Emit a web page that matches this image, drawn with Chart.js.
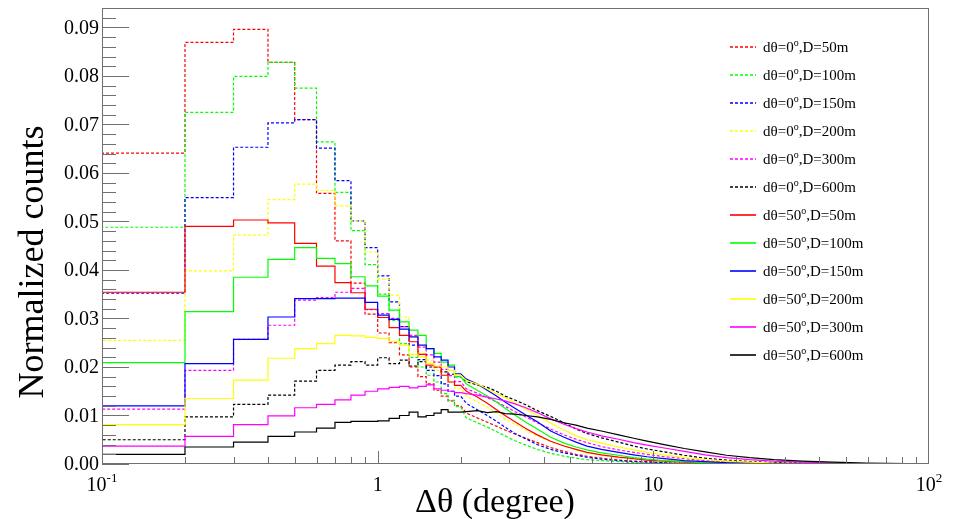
<!DOCTYPE html>
<html>
<head>
<meta charset="utf-8">
<script src="https://cdn.jsdelivr.net/npm/chart.js@4.4.1/dist/chart.umd.min.js"></script>
<style>
  html, body { margin: 0; padding: 0; background: #fff; }
  #myChart { display: block; }
</style>
</head>
<body>
<canvas id="myChart" width="953" height="519" style="width:953px;height:519px"></canvas>
<script>
// bin edges in degrees (last entry closes the last bin)
const binEdges = [0.1,0.2,0.3,0.4,0.5,0.6,0.7,0.8,0.9,1.0,1.1,1.2,1.3,1.4,1.5,1.6,1.7,1.8,1.9,2.0,
  2.2,2.4,2.6,2.8,3.0,3.3,3.6,4.0,4.5,5,5.5,6,7,8,9,10,12,14,17,20,25,30,40,50,70,100];

// dtheta = 0 deg (dashed)
const dt0_D50 = [0.0641,0.0869,0.0896,0.0828,0.0710,0.0558,0.0460,0.0373,0.0309,0.0270,0.0250,0.0225,0.0200,0.0180,0.0165,0.0152,0.0140,0.0130,0.0120,
  0.0105,0.0095,0.0086,0.0078,0.0070,0.0062,0.0053,0.0044,0.0034,0.0026,0.0020,0.0016,0.0012,0.0008,0.0006,0.0005,0.0003,0.0002,0.0001,0.00006,0.00004,0.00002,0.00001,0.00001,0,0];
const dt0_D100 = [0.0488,0.0725,0.0799,0.0828,0.0775,0.0664,0.0560,0.0481,0.0411,0.0350,0.0296,0.0248,0.0220,0.0200,0.0183,0.0169,0.0145,0.0131,0.0118,
  0.0095,0.0085,0.0076,0.0067,0.0058,0.0048,0.0039,0.0030,0.0022,0.0016,0.0012,0.0009,0.0007,0.0005,0.0003,0.0002,0.0002,0.0001,0.00005,0.00003,0.00002,0.00001,0,0,0,0];
const dt0_D150 = [0.0352,0.0549,0.0653,0.0703,0.0710,0.0651,0.0584,0.0501,0.0446,0.0388,0.0334,0.0283,0.0245,0.0215,0.0193,0.0182,0.0165,0.0150,0.0140,
  0.0125,0.0112,0.0100,0.0088,0.0076,0.0063,0.0052,0.0040,0.0030,0.0023,0.0018,0.0014,0.0010,0.0007,0.0005,0.0004,0.0003,0.0002,0.0001,0.00006,0.00003,0.00002,0.00001,0,0,0];
const dt0_D200 = [0.0255,0.0398,0.0472,0.0545,0.0577,0.0564,0.0532,0.0501,0.0437,0.0381,0.0348,0.0303,0.0262,0.0228,0.0214,0.0193,0.0183,0.0169,0.0156,
  0.0140,0.0128,0.0118,0.0105,0.0093,0.0082,0.0070,0.0058,0.0046,0.0037,0.0029,0.0023,0.0018,0.0013,0.0010,0.0008,0.0005,0.0003,0.0002,0.0001,0.00006,0.00003,0.00002,0.00001,0,0];
const dt0_D300 = [0.0113,0.0193,0.0257,0.0286,0.0338,0.0343,0.0354,0.0362,0.0318,0.0310,0.0300,0.0283,0.0265,0.0241,0.0225,0.0210,0.0195,0.0182,0.0170,
  0.0155,0.0146,0.0137,0.0128,0.0119,0.0108,0.0097,0.0085,0.0072,0.0060,0.0051,0.0044,0.0036,0.0029,0.0024,0.0020,0.0015,0.0011,0.0007,0.0005,0.0003,0.0002,0.0001,0.00005,0.00002,0.00001];
const dt0_D600 = [0.0050,0.0097,0.0123,0.0142,0.0171,0.0193,0.0204,0.0211,0.0204,0.0219,0.0207,0.0214,0.0202,0.0211,0.0200,0.0200,0.0190,0.0185,0.0180,
  0.0170,0.0163,0.0158,0.0150,0.0140,0.0132,0.0122,0.0110,0.0098,0.0085,0.0072,0.0063,0.0054,0.0045,0.0037,0.0031,0.0025,0.0018,0.0012,0.0008,0.0005,0.0003,0.0002,0.0001,0.00005,0.00002];

// dtheta = 50 deg (solid)
const dt50_D50 = [0.0354,0.0490,0.0503,0.0497,0.0455,0.0408,0.0374,0.0353,0.0319,0.0302,0.0281,0.0265,0.0252,0.0226,0.0204,0.0200,0.0183,0.0169,0.0162,
  0.0150,0.0138,0.0125,0.0112,0.0100,0.0087,0.0073,0.0060,0.0047,0.0037,0.0030,0.0024,0.0019,0.0014,0.0011,0.0008,0.0006,0.0004,0.0002,0.0001,0.00005,0.00003,0.00001,0,0,0];
const dt50_D100 = [0.0209,0.0314,0.0385,0.0422,0.0446,0.0424,0.0413,0.0386,0.0367,0.0346,0.0317,0.0293,0.0276,0.0265,0.0238,0.0228,0.0210,0.0204,0.0180,
  0.0165,0.0152,0.0140,0.0128,0.0115,0.0101,0.0086,0.0072,0.0055,0.0043,0.0035,0.0029,0.0023,0.0018,0.0013,0.0010,0.0007,0.0005,0.0003,0.0002,0.0001,0.00005,0.00002,0.00001,0,0];
const dt50_D150 = [0.0120,0.0207,0.0257,0.0303,0.0341,0.0341,0.0342,0.0342,0.0333,0.0307,0.0298,0.0278,0.0262,0.0245,0.0238,0.0221,0.0214,0.0200,0.0186,
  0.0175,0.0165,0.0152,0.0140,0.0128,0.0115,0.0101,0.0087,0.0068,0.0055,0.0045,0.0037,0.0030,0.0024,0.0019,0.0015,0.0011,0.0007,0.0005,0.0003,0.0002,0.0001,0.00005,0.00002,0.00001,0.00001];
const dt50_D200 = [0.0081,0.0135,0.0173,0.0218,0.0238,0.0248,0.0265,0.0264,0.0261,0.0259,0.0252,0.0245,0.0226,0.0221,0.0207,0.0202,0.0200,0.0193,0.0183,
  0.0172,0.0165,0.0155,0.0145,0.0137,0.0126,0.0113,0.0100,0.0084,0.0070,0.0058,0.0050,0.0043,0.0035,0.0029,0.0024,0.0019,0.0013,0.0009,0.0006,0.0004,0.0002,0.0001,0.00005,0.00003,0.00001];
const dt50_D300 = [0.0037,0.0057,0.0081,0.0099,0.0116,0.0123,0.0132,0.0142,0.0150,0.0155,0.0158,0.0160,0.0157,0.0160,0.0163,0.0155,0.0152,0.0150,0.0147,
  0.0145,0.0142,0.0138,0.0134,0.0130,0.0124,0.0116,0.0106,0.0093,0.0082,0.0073,0.0066,0.0058,0.0051,0.0044,0.0039,0.0033,0.0026,0.0019,0.0013,0.0009,0.0006,0.0004,0.0002,0.0001,0.00005];
const dt50_D600 = [0.0020,0.0035,0.0045,0.0057,0.0066,0.0074,0.0086,0.0088,0.0088,0.0089,0.0094,0.0100,0.0107,0.0097,0.0100,0.0105,0.0112,0.0107,0.0107,
  0.0108,0.0110,0.0106,0.0108,0.0104,0.0103,0.0100,0.0097,0.0092,0.0085,0.0080,0.0074,0.0068,0.0060,0.0053,0.0047,0.0040,0.0032,0.0025,0.0018,0.0013,0.0009,0.0006,0.0004,0.0002,0.0001];

const seriesLabels = ["dθ=0°,D=50m","dθ=0°,D=100m","dθ=0°,D=150m","dθ=0°,D=200m","dθ=0°,D=300m","dθ=0°,D=600m",
  "dθ=50°,D=50m","dθ=50°,D=100m","dθ=50°,D=150m","dθ=50°,D=200m","dθ=50°,D=300m","dθ=50°,D=600m"];
const seriesValues = [dt0_D50, dt0_D100, dt0_D150, dt0_D200, dt0_D300, dt0_D600,
  dt50_D50, dt50_D100, dt50_D150, dt50_D200, dt50_D300, dt50_D600];
const seriesColors = ["#ff0000","#00ff00","#0000ff","#ffff00","#ff00ff","#000000",
  "#ff0000","#00ff00","#0000ff","#ffff00","#ff00ff","#000000"];

const yTickValues = [0,0.01,0.02,0.03,0.04,0.05,0.06,0.07,0.08,0.09];
const yTickLabels = ["0.00","0.01","0.02","0.03","0.04","0.05","0.06","0.07","0.08","0.09"];
const xTickValues = [0.1,1,10,100];
const xTickBase = ["10","1","10","10"];
const xTickExp = ["-1","","","2"];

const FONT = "'Liberation Serif', 'Times New Roman', serif";
const STEP_LIMIT = 2.0; // below this the 0.1 deg bins are drawn as steps, above it the coarser bins as a curve

function histPoints(values) {
  let pts = [{ x: binEdges[0], y: 0 }];
  values.forEach((v, i) => {
    let lo = binEdges[i];
    let hi = binEdges[i + 1];
    if (hi <= STEP_LIMIT) {
      pts.push({ x: lo, y: v }, { x: hi, y: v });
    } else {
      pts.push({ x: Math.sqrt(lo * hi), y: v });
    }
  });
  pts.push({ x: binEdges[values.length], y: values[values.length - 1] });
  return pts;
}

let datasets = seriesValues.map((vals, i) => ({
  label: seriesLabels[i],
  data: histPoints(vals),
  borderColor: seriesColors[i],
  borderWidth: 1.2,
  borderDash: i < 6 ? [3, 2] : [],
  pointRadius: 0,
  tension: 0,
  fill: false,
  order: 12 - i,
}));

const frameAndText = {
  id: "frameAndText",
  afterDraw(chart) {
    const c = chart.ctx;
    const a = chart.chartArea;
    const xs = chart.scales.x;
    const ys = chart.scales.y;
    c.save();
    c.strokeStyle = "#707070";
    c.lineWidth = 1;
    c.setLineDash([]);
    c.strokeRect(a.left + 0.5, a.top + 0.5, a.right - a.left - 1, a.bottom - a.top - 1);

    // y ticks, pointing into the frame
    c.beginPath();
    for (let k = 0; k <= 47; k++) {
      let v = k * 0.002;
      if (v > ys.max) break;
      let py = Math.round(ys.getPixelForValue(v)) + 0.5;
      let len = k % 5 === 0 ? 27 : 14;
      c.moveTo(a.left, py);
      c.lineTo(a.left + len, py);
    }
    // x ticks on the log axis
    for (let dec = 0.1; dec < 100; dec *= 10) {
      for (let m = 1; m <= 9; m++) {
        let px = Math.round(xs.getPixelForValue(dec * m)) + 0.5;
        let len = m === 1 ? 13 : 7;
        c.moveTo(px, a.bottom);
        c.lineTo(px, a.bottom - len);
      }
    }
    c.stroke();

    // y tick labels
    c.fillStyle = "#000";
    c.font = "20px " + FONT;
    c.textAlign = "right";
    c.textBaseline = "middle";
    yTickValues.forEach((v, i) => {
      c.fillText(yTickLabels[i], a.left - 3, ys.getPixelForValue(v) + 1);
    });

    // x tick labels with exponents
    c.textAlign = "left";
    c.textBaseline = "alphabetic";
    xTickValues.forEach((v, i) => {
      c.font = "20px " + FONT;
      let w1 = c.measureText(xTickBase[i]).width;
      c.font = "13px " + FONT;
      let w2 = xTickExp[i] ? c.measureText(xTickExp[i]).width : 0;
      let x0 = xs.getPixelForValue(v) - (w1 + w2) / 2;
      c.font = "20px " + FONT;
      c.fillText(xTickBase[i], x0, a.bottom + 27);
      if (xTickExp[i]) {
        c.font = "13px " + FONT;
        c.fillText(xTickExp[i], x0 + w1, a.bottom + 18);
      }
    });

    // axis titles
    c.font = "34px " + FONT;
    c.textAlign = "center";
    c.fillText("Δθ (degree)", 495, 512);
    c.save();
    c.font = "36px " + FONT;
    c.translate(43, 262);
    c.rotate(-Math.PI / 2);
    c.fillText("Normalized counts", 0, 0);
    c.restore();

    // legend (line spread over two pixel rows so the colour survives)
    seriesLabels.forEach((label, i) => {
      let y = Math.round(46.5 + 28 * i);
      c.strokeStyle = seriesColors[i];
      c.lineWidth = 1.6;
      c.setLineDash(i < 6 ? [3, 2] : []);
      c.beginPath();
      c.moveTo(730, y);
      c.lineTo(756, y);
      c.stroke();
      c.setLineDash([]);
      let parts = label.split("°");
      let x = 763;
      c.textAlign = "left";
      c.textBaseline = "alphabetic";
      c.fillStyle = "#000";
      c.font = "15px " + FONT;
      c.fillText(parts[0], x, y + 5);
      x += c.measureText(parts[0]).width;
      c.font = "10px " + FONT;
      c.fillText("o", x, y - 1);
      x += c.measureText("o").width;
      c.font = "15px " + FONT;
      c.fillText(parts[1], x, y + 5);
    });
    c.restore();
  },
};

const ctx = document.getElementById("myChart").getContext("2d");

new Chart(ctx, {
  type: "line",
  data: { datasets: datasets },
  options: {
    responsive: false,
    animation: false,
    devicePixelRatio: 1,
    layout: { padding: { left: 102, right: 24, top: 8, bottom: 55 } },
    scales: {
      x: { type: "logarithmic", min: 0.1, max: 100, display: false },
      y: { type: "linear", min: 0, max: 0.094, display: false },
    },
    plugins: {
      legend: { display: false },
      tooltip: { enabled: false },
    },
  },
  plugins: [frameAndText],
});
</script>
</body>
</html>
